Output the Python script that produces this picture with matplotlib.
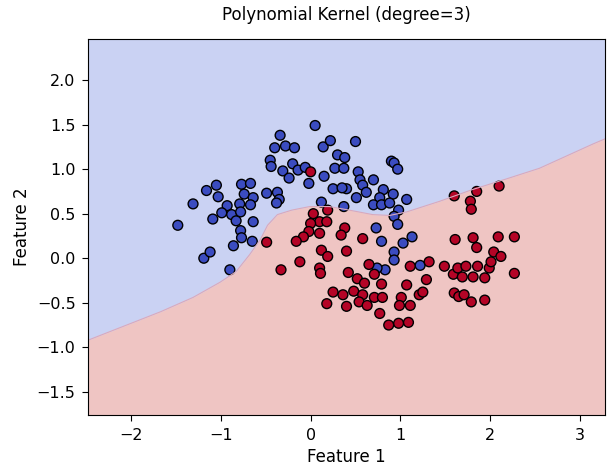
import matplotlib
matplotlib.use("Agg")
import matplotlib.pyplot as plt
import numpy as np

# class 0 (upper moon) points
blue_x = [0.05, -0.34, -0.40, -0.28, -0.18, 0.14, 0.22, 0.30, -0.45, -0.44,
          -0.31, -0.20, -0.14, -0.06, -0.24, -0.02, 0.15, 0.27, 0.25, 0.12,
          -0.49, -0.37, -0.35, -0.38, -1.16, -1.05, -1.03, -1.31, -0.77, -0.67,
          -0.74, -0.64, -0.67, -0.79, -0.93, -0.99, -1.09, -0.88, -0.83, -0.78,
          -0.64, -1.48, -0.78, -0.77, -0.65, -0.86, -1.19, -1.12, -0.90,
          0.50, 0.38, 0.37, 0.90, 0.93, 0.97, 0.53, 0.55, 0.70, 0.40,
          0.58, 0.62, 0.81, 0.92, 0.51, 0.77, 0.70, 0.79, 0.88, 1.07,
          0.37, 0.98, 0.93, 0.97, 0.73, 0.79, 1.13, 1.03, 0.93, 0.93,
          1.22, 0.83, 0.74, 0.35]
blue_y = [1.49, 1.38, 1.24, 1.26, 1.24, 1.25, 1.32, 1.16, 1.10, 1.03,
          0.98, 1.06, 0.99, 1.02, 0.90, 0.84, 0.92, 1.01, 0.78, 0.63,
          0.73, 0.74, 0.66, 0.62, 0.76, 0.82, 0.69, 0.61, 0.83, 0.84,
          0.72, 0.68, 0.60, 0.61, 0.59, 0.51, 0.44, 0.49, 0.42, 0.52,
          0.41, 0.37, 0.31, 0.23, 0.19, 0.14, 0.00, 0.07, -0.13,
          1.31, 1.13, 1.01, 1.09, 1.07, 1.00, 0.97, 0.88, 0.88, 0.78,
          0.82, 0.74, 0.77, 0.72, 0.68, 0.68, 0.60, 0.60, 0.62, 0.66,
          0.58, 0.54, 0.47, 0.38, 0.34, 0.19, 0.24, 0.17, 0.07, -0.02,
          -0.08, -0.13, -0.11, 0.79]

# class 1 (lower moon) points
red_x = [0.00, 0.03, 0.19, 0.10, 0.18, 0.00, -0.02, 0.10, -0.08, -0.16,
         -0.49, 0.12, 0.19, -0.12, -0.33, 0.10, 0.11, 0.38, 0.34, 0.40,
         0.58, 0.65, 0.42, 0.71, 0.52, 0.60, 0.79, 0.25, 0.36, 0.48,
         0.58, 0.71, 0.80, 0.54, 0.63, 0.18, 0.40, 0.77, 0.87, 0.98,
         1.09, 1.01, 0.99, 1.11, 1.07, 1.21, 1.25, 1.29, 1.32, 1.11,
         1.49, 1.59, 1.64, 1.73, 1.69, 1.81, 1.86, 1.94, 1.99, 2.01,
         2.04, 2.12, 2.27, 1.60, 1.65, 1.71, 1.79, 1.94, 1.61, 1.85,
         1.81, 2.09, 2.27, 1.60, 1.85, 2.10, 1.78, 1.79]
red_y = [0.97, 0.50, 0.54, 0.41, 0.41, 0.39, 0.30, 0.28, 0.24, 0.19,
         0.18, 0.09, 0.02, -0.04, -0.13, -0.11, -0.17, 0.34, 0.26, 0.08,
         0.22, -0.07, -0.16, -0.18, -0.23, -0.28, -0.29, -0.38, -0.41, -0.37,
         -0.41, -0.44, -0.44, -0.49, -0.53, -0.51, -0.54, -0.62, -0.75, -0.73,
         -0.72, -0.44, -0.53, -0.53, -0.30, -0.41, -0.38, -0.24, -0.04, -0.09,
         -0.09, -0.18, -0.11, -0.09, -0.21, -0.21, -0.09, -0.22, -0.11, -0.04,
         0.07, 0.02, -0.17, -0.39, -0.43, -0.41, -0.49, -0.47, 0.21, 0.12,
         0.23, 0.24, 0.24, 0.70, 0.75, 0.81, 0.64, 0.55]

# decision boundary of the degree-3 polynomial SVM
boundary_x = [-2.48, -1.67, -1.31, -1.01, -0.83, -0.68, -0.56, -0.48, -0.37, -0.21,
              -0.01, 0.21, 0.43, 0.69, 0.88, 1.07, 1.44, 1.80, 2.18, 2.55, 3.14, 3.28]
boundary_y = [-0.92, -0.60, -0.44, -0.27, -0.15, 0.04, 0.21, 0.37, 0.49, 0.54,
              0.58, 0.58, 0.54, 0.49, 0.48, 0.52, 0.64, 0.77, 0.89, 1.01, 1.28, 1.34]

x_lim = (-2.48, 3.28)
y_lim = (-1.76, 2.46)

fig = plt.figure(figsize=(6.13, 4.67), dpi=100)
ax = fig.add_axes([0.1436, 0.1113, 0.8434, 0.805])

cmap = plt.cm.coolwarm
ax.fill_between(boundary_x, boundary_y, y_lim[1], color=cmap(0.071), alpha=0.3, lw=0)
ax.fill_between(boundary_x, y_lim[0], boundary_y, color=cmap(0.929), alpha=0.3, lw=0)
ax.plot(boundary_x, boundary_y, color="#d9a9bd", lw=0.8)

X1 = np.array(blue_x + red_x)
X2 = np.array(blue_y + red_y)
labels = np.array([0] * len(blue_x) + [1] * len(red_x))
ax.scatter(X1, X2, c=labels, cmap="coolwarm", edgecolors="k", s=50)

ax.set_xlim(*x_lim)
ax.set_ylim(*y_lim)
ax.tick_params(labelsize=11.5, length=4.5, pad=4.5)
ax.set_title("Polynomial Kernel (degree=3)", fontsize=12, pad=14)
ax.set_xlabel("Feature 1", fontsize=12)
ax.set_ylabel("Feature 2", fontsize=12)

fig.savefig("out.png", dpi=100)
